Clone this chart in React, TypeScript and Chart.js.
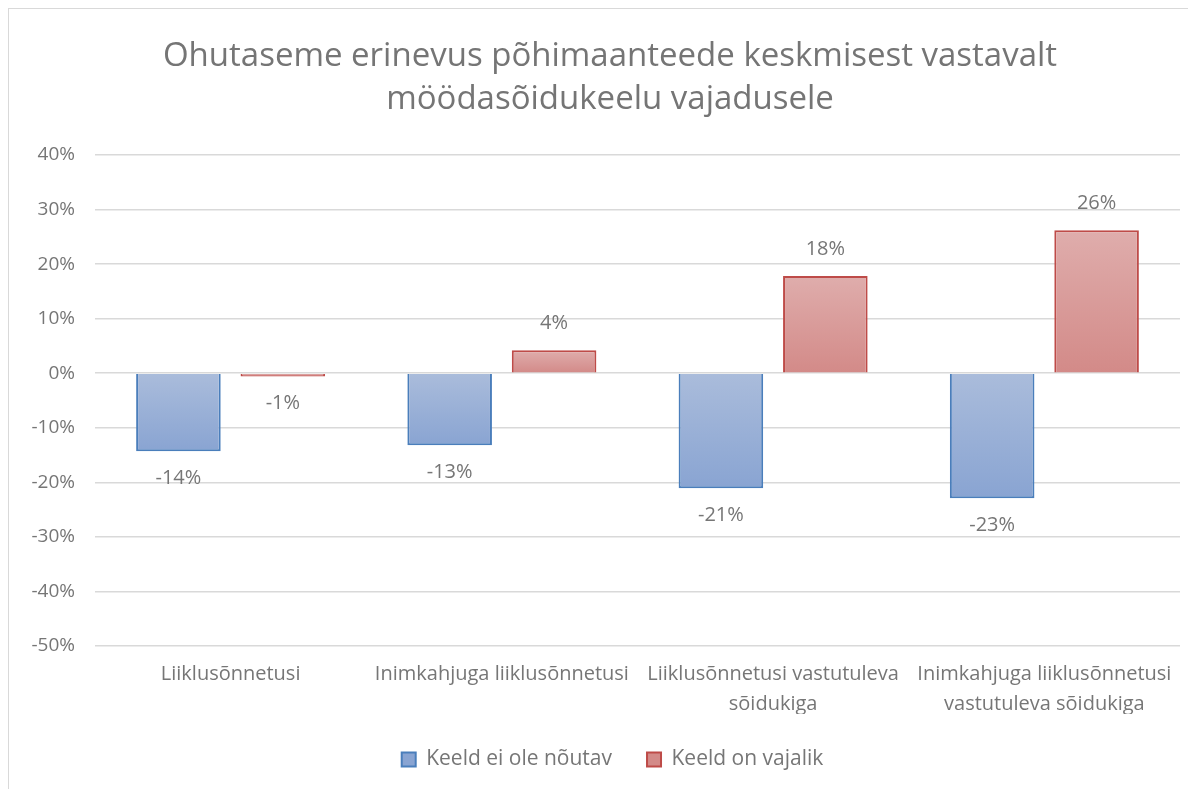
import React, { useEffect, useRef } from "react";
import { Chart, registerables } from "chart.js";

Chart.register(...registerables);

const titleLines = [
  "Ohutaseme erinevus põhimaanteede keskmisest vastavalt",
  "möödasõidukeelu vajadusele",
];
const categories: (string | string[])[] = [
  "Liiklusõnnetusi",
  "Inimkahjuga liiklusõnnetusi",
  ["Liiklusõnnetusi vastutuleva", "sõidukiga"],
  ["Inimkahjuga liiklusõnnetusi", "vastutuleva sõidukiga"],
];
const seriesNames = ["Keeld ei ole nõutav", "Keeld on vajalik"];
const notRequired = [-14.3, -13.2, -21.1, -22.9];
const required = [-0.6, 4.2, 17.8, 26.2];
const yMin = -50;
const yMax = 40;
const yStep = 10;

const FONT = "'Open Sans', Lato, sans-serif";
const GREY = "#767676";

function gradient(light: string, dark: string, mid: string) {
  return (ctx: any) => {
    const chart = ctx.chart;
    const y = chart.scales && chart.scales.y;
    if (!y || typeof ctx.raw !== "number") return mid;
    const p1 = y.getPixelForValue(ctx.raw);
    const p0 = y.getPixelForValue(0);
    const top = Math.min(p0, p1);
    const bot = Math.max(p0, p1);
    if (!isFinite(top) || bot - top < 1) return dark;
    const g = chart.ctx.createLinearGradient(0, top, 0, bot);
    g.addColorStop(0, light);
    g.addColorStop(1, dark);
    return g;
  };
}

const titlePlugin = {
  id: "customTitle",
  afterDraw(chart: any) {
    const c = chart.ctx;
    c.save();
    c.fillStyle = "#757575";
    c.font = `33px ${FONT}`;
    c.textAlign = "center";
    c.textBaseline = "middle";
    c.fillText(titleLines[0], 601, 48);
    c.fillText(titleLines[1], 601, 91);
    c.restore();
  },
};

const legendShift = {
  id: "legendShift",
  afterLayout(chart: any) {
    const l = chart.legend;
    if (l) {
      l.left += 18;
      l.right += 18;
    }
  },
};

const labelPlugin = {
  id: "valueLabels",
  afterDatasetsDraw(chart: any) {
    const c = chart.ctx;
    c.save();
    c.fillStyle = GREY;
    c.font = `20px ${FONT}`;
    c.textAlign = "center";
    c.textBaseline = "middle";
    chart.data.datasets.forEach((ds: any, i: number) => {
      const meta = chart.getDatasetMeta(i);
      meta.data.forEach((bar: any, j: number) => {
        const v = ds.data[j];
        const y = v < 0 ? bar.y + 27 : bar.y - 27;
        c.fillText(Math.round(v) + "%", bar.x, y);
      });
    });
    c.restore();
  },
};

export default function App() {
  const ref = useRef<HTMLCanvasElement>(null);
  useEffect(() => {
    if (!ref.current) return;
    const chart = new Chart(ref.current, {
      type: "bar",
      data: {
        labels: categories,
        datasets: [
          {
            label: seriesNames[0],
            data: notRequired,
            backgroundColor: gradient("#aabcdb", "#89a4d2", "#9db3d8"),
            borderColor: "#4a7ebb",
            borderWidth: 2,
            categoryPercentage: 0.77,
            barPercentage: 0.81,
          },
          {
            label: seriesNames[1],
            data: required,
            backgroundColor: gradient("#dfadac", "#d38a88", "#d99d9b"),
            borderColor: "#be4b48",
            borderWidth: 2,
            categoryPercentage: 0.77,
            barPercentage: 0.81,
          },
        ],
      },
      options: {
        animation: false,
        responsive: false,
        layout: { padding: { top: 146, right: 16, left: 0, bottom: 9 } },
        plugins: {
          title: { display: false },
          tooltip: { enabled: false },
          legend: {
            position: "bottom",
            labels: {
              boxWidth: 14,
              boxHeight: 14,
              padding: 35,
              color: GREY,
              font: { family: FONT, size: 21 },
            },
          },
        },
        scales: {
          x: {
            grid: { display: false },
            border: { display: false },
            ticks: {
              color: GREY,
              font: { family: FONT, size: 20, lineHeight: 1.5 },
              maxRotation: 0,
              autoSkip: false,
              padding: 5,
            },
            afterFit(scale: any) {
              scale.height = 68;
            },
          },
          y: {
            min: yMin,
            max: yMax,
            ticks: {
              stepSize: yStep,
              color: GREY,
              font: { family: FONT, size: 19 },
              padding: 20,
              callback: (v: any) => v + "%",
            },
            grid: { color: "#d9d9d9", lineWidth: 1.5, drawTicks: false },
            border: { display: false },
            afterFit(scale: any) {
              scale.width = 86;
            },
          },
        },
      },
      plugins: [titlePlugin, labelPlugin, legendShift],
    });
    return () => chart.destroy();
  }, []);

  return (
    <div
      style={{
        width: 1188,
        height: 781,
        borderLeft: "1px solid #d9d9d9",
        borderTop: "1px solid #d9d9d9",
        overflow: "hidden",
      }}
    >
      <canvas ref={ref} width={1187} height={780} style={{ display: "block" }} />
    </div>
  );
}
